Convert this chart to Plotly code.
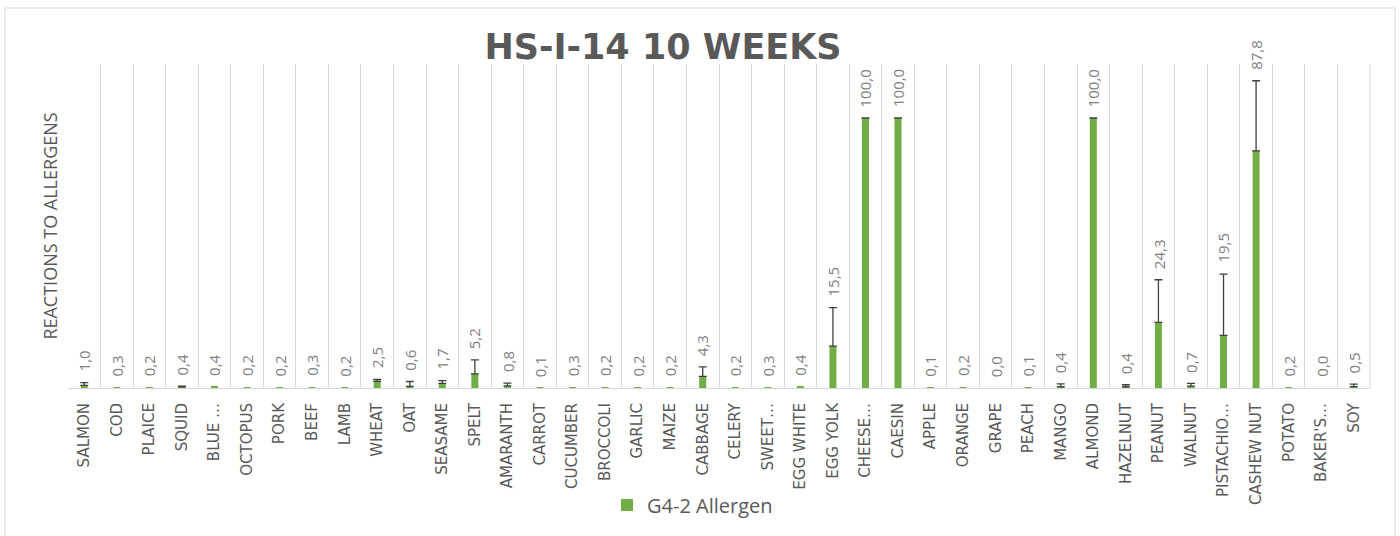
import plotly.graph_objects as go

categories = ["SALMON", "COD", "PLAICE", "SQUID", "BLUE …", "OCTOPUS", "PORK", "BEEF", "LAMB",
              "WHEAT", "OAT", "SEASAME", "SPELT", "AMARANTH", "CARROT", "CUCUMBER", "BROCCOLI",
              "GARLIC", "MAIZE", "CABBAGE", "CELERY", "SWEET…", "EGG WHITE", "EGG YOLK",
              "CHEESE…", "CAESIN", "APPLE", "ORANGE", "GRAPE", "PEACH", "MANGO", "ALMOND",
              "HAZELNUT", "PEANUT", "WALNUT", "PISTACHIO…", "CASHEW NUT", "POTATO", "BAKER'S…", "SOY"]

values = [1.0, 0.3, 0.2, 0.4, 0.4, 0.2, 0.2, 0.3, 0.2, 2.5, 0.6, 1.7, 5.2, 0.8, 0.1, 0.3, 0.2,
          0.2, 0.2, 4.3, 0.2, 0.3, 0.4, 15.5, 100.0, 100.0, 0.1, 0.2, 0.0, 0.1, 0.4, 100.0,
          0.4, 24.3, 0.7, 19.5, 87.8, 0.2, 0.0, 0.5]

errors = [1.0, None, None, 0.3, None, None, None, None, None, 0.7, 1.8, 1.0, 5.2, 1.0, None, None, None,
          None, None, 3.5, None, None, None, 14.3, 0.0, 0.0, None, None, None, None, 1.1, 0.0,
          0.8, 15.8, 1.0, 22.7, 26.0, None, None, 0.9]

series_name = "G4-2 Allergen"
title_text = "HS-I-14 10 WEEKS"
y_title = "REACTIONS TO ALLERGENS"

GREEN = "#70AD47"
GRID = "#d9d9d9"
TXT = "#595959"

fig = go.Figure()
fig.add_trace(go.Bar(
    x=categories, y=values, name=series_name,
    marker=dict(color=GREEN, line=dict(width=0)),
    showlegend=True,
))

err_x = [c for c, e in zip(categories, errors) if e is not None]
err_y = [v for v, e in zip(values, errors) if e is not None]
err_v = [e for e in errors if e is not None]
fig.add_trace(go.Scatter(
    x=err_x, y=err_y, mode="markers",
    marker=dict(size=1, opacity=0),
    error_y=dict(type="data", array=err_v, symmetric=False, arrayminus=[0] * len(err_v),
                 color="#404040", thickness=1.3, width=4),
    showlegend=False, hoverinfo="skip",
))

for c, v, e in zip(categories, values, errors):
    top = v + (e if e is not None else 0)
    fig.add_annotation(
        x=c, y=top, xref="x", yref="y",
        text=f"{v:.1f}".replace(".", ","),
        textangle=-90, showarrow=False,
        xanchor="center", yanchor="bottom", yshift=9,
        font=dict(family="Open Sans", size=15, color="#7f7f7f"),
    )

L, R, T, B = 68, 30, 64, 148
W, H = 1400, 536
pw, ph = W - L - R, H - T - B

def px_x(p):
    return (p - L) / pw

def px_y(p):
    return (H - B - p) / ph

fig.add_shape(type="rect", xref="paper", yref="paper",
              x0=px_x(5), x1=px_x(1395), y0=px_y(600), y1=px_y(8),
              line=dict(color=GRID, width=1), fillcolor="rgba(0,0,0,0)", layer="below")
fig.add_shape(type="line", xref="paper", yref="paper", x0=1, x1=1, y0=0, y1=1,
              line=dict(color=GRID, width=1), layer="below")

fig.update_layout(
    width=W, height=H,
    margin=dict(l=L, r=R, t=T, b=B, autoexpand=False),
    paper_bgcolor="white", plot_bgcolor="white",
    bargap=0.785,
    title=dict(text=f"<b>{title_text}</b>", x=663 / W, xanchor="center",
               y=1 - 47 / H, yanchor="middle", xref="container", yref="container",
               font=dict(family="DejaVu Sans", size=35, color=TXT)),
    legend=dict(x=px_x(607), xanchor="left", y=px_y(505), yanchor="middle",
                bgcolor="rgba(0,0,0,0)", font=dict(family="Open Sans", size=20, color=TXT)),
    xaxis=dict(type="category", range=[-0.5, len(categories) - 0.5],
               tickson="boundaries", showgrid=True, gridcolor=GRID, gridwidth=1,
               showline=True, linecolor=GRID, linewidth=1, ticks="", tickangle=-90,
               ticklabelstandoff=8, automargin=False,
               tickfont=dict(family="DejaVu Sans", size=15, color=TXT)),
    yaxis=dict(range=[0, 120], showgrid=False, zeroline=False, showline=False,
               showticklabels=False, ticks="", automargin=False,
               title=dict(text=y_title, standoff=4,
                          font=dict(family="Open Sans", size=18, color=TXT))),
)

fig.write_html("out.html", config={"displayModeBar": False},
               post_script="document.body.style.margin='0';")
